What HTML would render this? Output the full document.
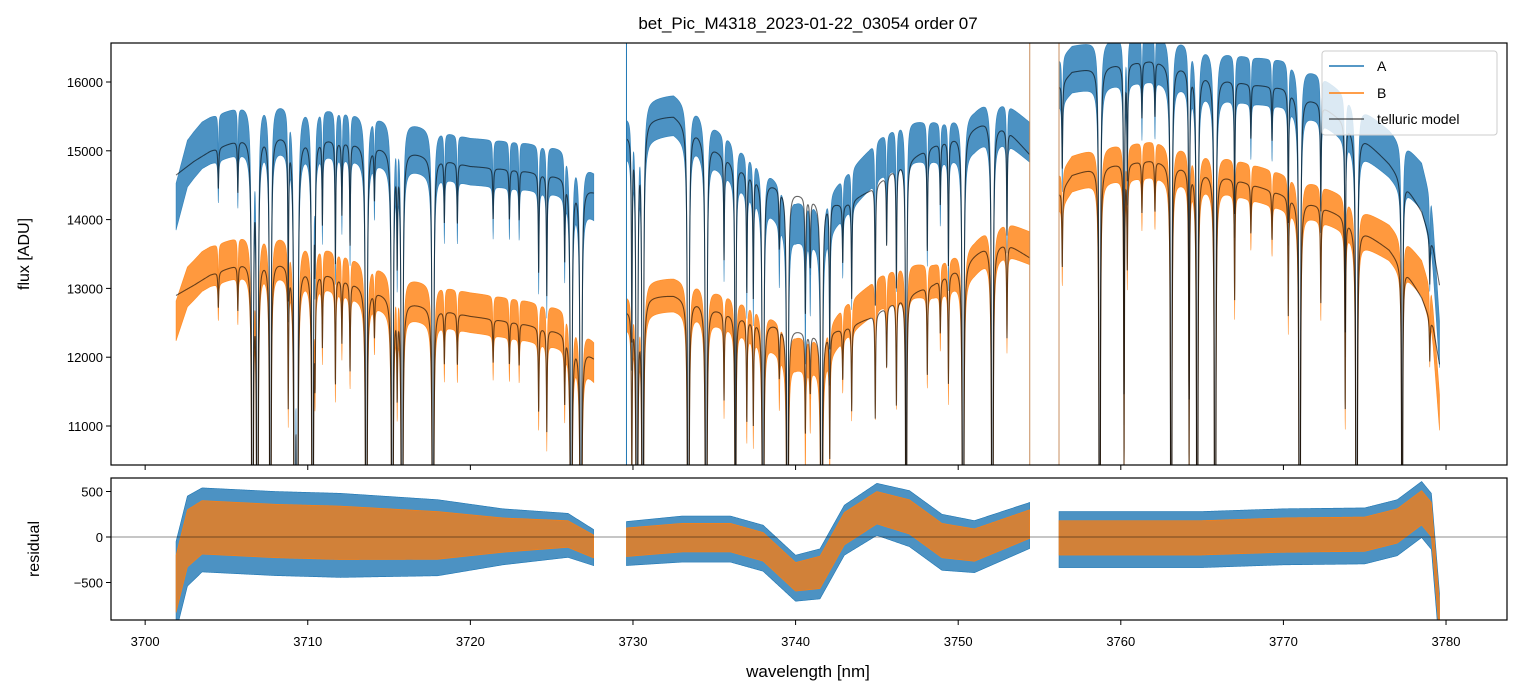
<!DOCTYPE html>
<html><head><meta charset="utf-8">
<style>
html,body{margin:0;padding:0;background:#fff;overflow:hidden;width:1520px;height:696px;}
svg{display:block;}
svg text{font-family:"Liberation Sans","DejaVu Sans",sans-serif;fill:#000;}
</style></head>
<body>
<svg id="chart" width="1520" height="696" viewBox="0 0 1520 696" xmlns="http://www.w3.org/2000/svg">
<rect width="1520" height="696" fill="#fff"/>
<defs>
<clipPath id="clipTop"><rect x="111" y="43" width="1396" height="422"/></clipPath>
<clipPath id="clipBot"><rect x="111" y="478" width="1396" height="142"/></clipPath>
</defs>
<text x="808" y="29" font-size="17" text-anchor="middle">bet_Pic_M4318_2023-01-22_03054  order 07</text>
<g id="topData" clip-path="url(#clipTop)"></g>
<g id="botData" clip-path="url(#clipBot)"></g>
<rect x="111" y="43" width="1396" height="422" fill="none" stroke="#000" stroke-width="1.2"/>
<rect x="111" y="478" width="1396" height="142" fill="none" stroke="#000" stroke-width="1.2"/>
<g id="axes"></g>
<text transform="translate(29,254) rotate(-90)" font-size="16" text-anchor="middle">flux [ADU]</text>
<text transform="translate(39,549) rotate(-90)" font-size="16" text-anchor="middle">residual</text>
<text x="808" y="677" font-size="17" text-anchor="middle">wavelength [nm]</text>
<g>
<rect x="1322" y="51" width="175" height="84" rx="3" fill="#fff" fill-opacity="0.8" stroke="#ccc"/>
<line x1="1329" y1="66" x2="1364" y2="66" stroke="#1f77b4" stroke-width="1.5"/>
<text x="1377" y="71" font-size="14">A</text>
<line x1="1329" y1="93" x2="1364" y2="93" stroke="#ff7f0e" stroke-width="1.5"/>
<text x="1377" y="98" font-size="14">B</text>
<line x1="1329" y1="119" x2="1364" y2="119" stroke="#000" stroke-opacity="0.6" stroke-width="1.5"/>
<text x="1377" y="124" font-size="14">telluric model</text>
</g>
</svg>
<script>
// ---- data ----
const segStart = [3701.9, 3729.6, 3756.2];
const segEnd = [3727.6, 3754.4, 3779.6];
const knotWl1 = [3701.9,3703,3704,3705.5,3707,3710,3713,3716,3720,3723,3726,3727.6];
const contA1 = [14650,14850,15000,15150,15280,15220,15120,15020,14780,14720,14620,14420];
const contB1 = [12900,13050,13200,13340,13470,13320,13070,12820,12600,12500,12350,12000];
const knotWl2 = [3729.6,3731,3732.5,3734,3735.5,3737,3739,3741,3743,3744.5,3746.5,3748.5,3750,3751.7,3753,3754.4];
const contA2 = [15250,15470,15520,15280,14950,14700,14480,14320,14220,14420,14820,15080,15230,15440,15320,14950];
const contB2 = [12700,12890,12910,12820,12670,12570,12470,12350,12420,12570,12870,13070,13320,13620,13660,13450];
const knotWl3 = [3756.2,3757,3758.5,3760,3762,3764,3766,3768,3770,3772,3773.5,3775,3776.5,3777.5,3778.5,3779.2,3779.6];
const contA3 = [15950,16150,16220,16270,16320,16220,16070,15970,15920,15720,15470,15170,14820,14520,14120,13600,13050];
const contB3 = [14380,14650,14770,14820,14870,14770,14670,14520,14370,14220,14070,13820,13570,13270,12870,12450,11900];
const lineWl = [3704.5,3705.7,3706.6,3706.9,3707.7,3708.8,3709.2,3709.35,3710.3,3710.45,3710.9,3711.7,3712.1,3712.6,3713.6,3714.1,3715.2,3715.5,3715.8,3717.7,3718.4,3719.2,3721.4,3722.4,3723,3724.2,3724.7,3725.8,3726.2,3726.8,
 3729.93,3730.24,3730.6,3733.4,3734.5,3735.6,3736.3,3737.0,3737.4,3738.0,3739.0,3739.5,3740.6,3740.9,3741.6,3742.1,3742.9,3743.45,3744.9,3745.6,3746.2,3746.8,3748.1,3748.9,3749.4,3750.3,3752.1,3753.0,
 3756.4,3758.7,3760.2,3760.4,3761.3,3762.1,3763.1,3764.2,3764.7,3765.8,3767.0,3768.0,3769.3,3770.3,3771.0,3772.3,3773.8,3774.5,3777.3,3779.0];
const lineDepth = [0.04,0.05,0.98,0.98,0.85,0.15,0.99,0.99,0.9,0.1,0.08,0.12,0.07,0.1,0.95,0.05,0.97,0.1,0.98,0.9,0.06,0.06,0.05,0.05,0.05,0.1,0.12,0.08,0.95,0.97,
 0.2,0.97,0.9,0.97,0.97,0.1,0.5,0.12,0.12,0.85,0.06,0.85,0.12,0.07,0.97,0.15,0.06,0.1,0.12,0.07,0.12,0.6,0.1,0.06,0.12,0.97,0.95,0.1,
 0.08,0.85,0.3,0.1,0.05,0.05,0.85,0.3,0.85,0.97,0.12,0.05,0.05,0.12,0.97,0.1,0.2,0.97,0.6,0.05];
const resWl = [3701.9,3702.6,3703.5,3708,3712,3718,3722,3726,3727.6,3729.6,3733,3736,3738,3740,3741.5,3743,3745,3747,3749,3751,3754.4,3756.2,3760,3765,3770,3775,3777,3778.5,3779.1,3779.6];
const resTrend = [-500,0,120,80,60,30,30,40,-100,-50,0,0,-100,-430,-380,100,330,230,-30,-80,150,0,0,0,30,40,130,330,200,-900];
const resAmpA = [450,450,420,420,420,380,280,220,180,220,230,230,230,230,250,250,260,280,280,260,230,280,280,280,280,280,280,280,280,280];
const resAmpB = [300,300,280,280,280,250,180,140,120,150,150,150,150,150,170,170,170,180,180,170,150,180,180,180,180,180,180,180,180,180];
const dataUpA = [380, 320, 380];
const dataLoA = [300, 260, 300];
const dataUpB = [320, 260, 280];
const dataLoB = [260, 220, 240];
const xTicks = [3700,3710,3720,3730,3740,3750,3760,3770,3780];
const yTicksTop = [11000,12000,13000,14000,15000,16000];
const yTicksBot = [-500,0,500];

// ---- axes functions ----
const X0=3697.9, X1=3783.75, PX0=111, PX1=1507;
function xs(w){return PX0+(w-X0)/(X1-X0)*(PX1-PX0);}
function yt(v){return 82+(16000-v)*0.0688;}
function yb(v){return 537-v*0.091;}
function interp(kx,ky,x){
  if(x<=kx[0])return ky[0];
  for(let i=1;i<kx.length;i++){ if(x<=kx[i]){const t=(x-kx[i-1])/(kx[i]-kx[i-1]);return ky[i-1]+t*(ky[i]-ky[i-1]);} }
  return ky[ky.length-1];
}
function trans(w){
  let t=1;
  for(let i=0;i<lineWl.length;i++){
    const d=lineDepth[i]; const wd=d>0.8?0.032:0.028;
    const u=(w-lineWl[i])/wd;
    t*=1-d/(1+u*u);
  }
  return t;
}
const NS='http://www.w3.org/2000/svg';
function mk(tag,attrs,parent){const e=document.createElementNS(NS,tag);for(const k in attrs)e.setAttribute(k,attrs[k]);parent.appendChild(e);return e;}
const topG=document.getElementById('topData'), botG=document.getElementById('botData'), axesG=document.getElementById('axes');
const knots=[[knotWl1,contA1,contB1],[knotWl2,contA2,contB2],[knotWl3,contA3,contB3]];
const step=0.012;
const modelPaths=[], bandA=[], bandB=[];
for(let s=0;s<3;s++){
  const [kw,ka,kb]=knots[s];
  const mA=[],mB=[],upA=[],loA=[],upB=[],loB=[];
  for(let w=segStart[s]; w<=segEnd[s]+1e-9; w+=step){
    const t=trans(w), r=interp(resWl,resTrend,w);
    const a=interp(kw,ka,w)*t, b=interp(kw,kb,w)*t;
    const x=xs(w).toFixed(2);
    mA.push(x+','+yt(a).toFixed(2)); mB.push(x+','+yt(b).toFixed(2));
    const f=0.3+0.7*t;
    upA.push(x+','+yt(a+r+dataUpA[s]*f).toFixed(2)); loA.unshift(x+','+yt(a+r-dataLoA[s]*f-(1-t)*700).toFixed(2));
    upB.push(x+','+yt(b+r*0.8+dataUpB[s]*f).toFixed(2)); loB.unshift(x+','+yt(b+r*0.8-dataLoB[s]*f-(1-t)*600).toFixed(2));
  }
  bandA.push(upA.concat(loA).join(' ')); bandB.push(upB.concat(loB).join(' '));
  modelPaths.push(mA.join(' '), mB.join(' '));
}
bandA.forEach((p,i)=>{const e=mk('polygon',{points:p,fill:'#1f77b4','fill-opacity':0.8,stroke:'#1f77b4','stroke-opacity':0.8,'stroke-width':0.6},topG);

});
bandB.forEach((p,i)=>{const e=mk('polygon',{points:p,fill:'#ff7f0e','fill-opacity':0.8,stroke:'#ff7f0e','stroke-opacity':0.8,'stroke-width':0.6},topG);

});
modelPaths.forEach((p,i)=>{const e=mk('polyline',{points:p,fill:'none',stroke:'#000','stroke-opacity':0.6,'stroke-width':1.1},topG);

});
[[segStart[1],'#1f77b4'],[segEnd[1],'#c89060'],[segStart[2],'#c89060']].forEach(([w,c])=>{
  const e=mk('line',{x1:xs(w),x2:xs(w),y1:43,y2:465,stroke:c,'stroke-width':1},topG);
  
  
});
for(let s=0;s<3;s++){
  const upA=[],loA=[],upB=[],loB=[];
  for(let w=segStart[s]; w<=segEnd[s]+1e-9; w+=step*2){
    const r=interp(resWl,resTrend,w), aa=interp(resWl,resAmpA,w), ab=interp(resWl,resAmpB,w);
    const x=xs(w).toFixed(2);
    upA.push(x+','+yb(r+aa).toFixed(2)); loA.unshift(x+','+yb(r-aa*1.2).toFixed(2));
    upB.push(x+','+yb(r+ab).toFixed(2)); loB.unshift(x+','+yb(r-ab*1.1).toFixed(2));
  }
  const ea=mk('polygon',{points:upA.concat(loA).join(' '),fill:'#1f77b4','fill-opacity':0.8,stroke:'#1f77b4','stroke-width':0.6},botG);
  
  
  const eb=mk('polygon',{points:upB.concat(loB).join(' '),fill:'#e07f2a','fill-opacity':0.9,stroke:'#ff7f0e','stroke-width':0.6},botG);
  
  
}
const zl=mk('line',{x1:111,x2:1507,y1:yb(0),y2:yb(0),stroke:'#000','stroke-opacity':0.6,'stroke-width':0.8},botG);


xTicks.forEach(v=>{
  const x=xs(v);
  mk('line',{x1:x,x2:x,y1:465,y2:470,stroke:'#000','stroke-width':1},axesG);
  mk('line',{x1:x,x2:x,y1:620,y2:625,stroke:'#000','stroke-width':1},axesG);
  const t=mk('text',{x:x,y:646,'font-size':13,'text-anchor':'middle'},axesG); t.textContent=v;
  
  
});
yTicksTop.forEach(v=>{
  const y=yt(v);
  mk('line',{x1:106,x2:111,y1:y,y2:y,stroke:'#000','stroke-width':1},axesG);
  const t=mk('text',{x:103,y:y+5,'font-size':13,'text-anchor':'end'},axesG); t.textContent=v;
  
  
});
yTicksBot.forEach(v=>{
  const y=yb(v);
  mk('line',{x1:106,x2:111,y1:y,y2:y,stroke:'#000','stroke-width':1},axesG);
  const t=mk('text',{x:103,y:y+5,'font-size':13,'text-anchor':'end'},axesG); t.textContent=(v<0?'\u2212'+(-v):v);
  
  
});
</script>
</body></html>
